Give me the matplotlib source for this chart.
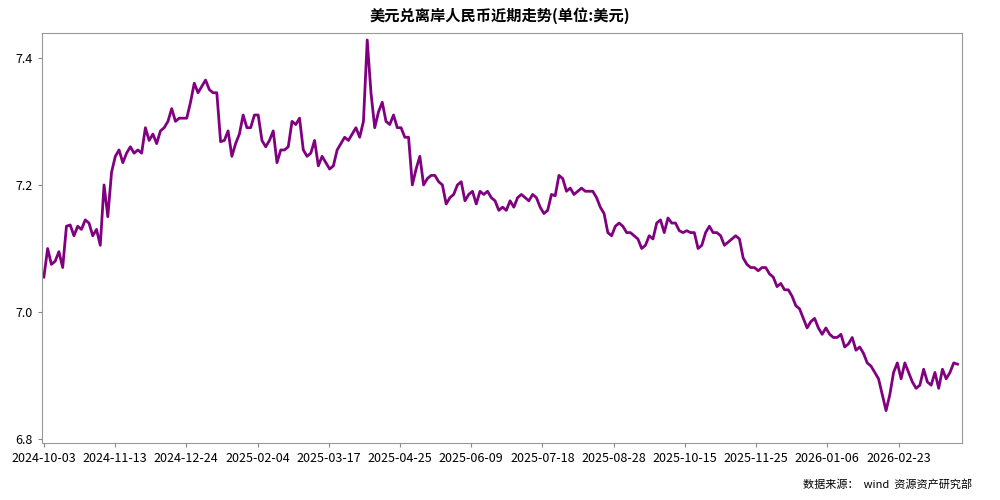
import numpy as np
from matplotlib import pyplot as plt

plt.rcParams['font.family'] = ['Noto Sans CJK SC', 'DejaVu Sans']

tick_labels = ['2024-10-03', '2024-11-13', '2024-12-24', '2025-02-04', '2025-03-17',
               '2025-04-25', '2025-06-09', '2025-07-18', '2025-08-28', '2025-10-15',
               '2025-11-25', '2026-01-06', '2026-02-23']

# USD/CNH close
rate = [7.055, 7.10, 7.075, 7.08, 7.095, 7.07, 7.135, 7.137, 7.12, 7.135, 7.13, 7.145, 7.14, 7.12,
        7.13, 7.105, 7.20, 7.15, 7.22, 7.245, 7.255, 7.235, 7.25, 7.26, 7.25, 7.255, 7.25, 7.29,
        7.27, 7.28, 7.265, 7.285, 7.29, 7.30, 7.32, 7.30, 7.305, 7.305, 7.305, 7.33, 7.36, 7.345,
        7.355, 7.365, 7.35, 7.345, 7.345, 7.268, 7.27, 7.285, 7.245, 7.265, 7.28, 7.31, 7.29, 7.29,
        7.31, 7.31, 7.27, 7.26, 7.27, 7.285, 7.235, 7.255, 7.255, 7.26, 7.30, 7.295, 7.305, 7.255,
        7.245, 7.25, 7.27, 7.23, 7.245, 7.235, 7.225, 7.23, 7.255, 7.265, 7.275, 7.27, 7.28, 7.29,
        7.275, 7.30, 7.428, 7.345, 7.29, 7.315, 7.33, 7.30, 7.295, 7.31, 7.29, 7.29, 7.275, 7.275,
        7.20, 7.225, 7.245, 7.20, 7.21, 7.215, 7.215, 7.205, 7.20, 7.17, 7.18, 7.185, 7.20, 7.205,
        7.175, 7.185, 7.19, 7.17, 7.19, 7.185, 7.19, 7.18, 7.175, 7.16, 7.165, 7.16, 7.175, 7.165,
        7.18, 7.185, 7.18, 7.175, 7.185, 7.18, 7.165, 7.155, 7.16, 7.185, 7.183, 7.215, 7.21, 7.19,
        7.195, 7.185, 7.19, 7.195, 7.19, 7.19, 7.19, 7.18, 7.165, 7.155, 7.125, 7.12, 7.135, 7.14,
        7.135, 7.125, 7.125, 7.12, 7.115, 7.10, 7.105, 7.12, 7.115, 7.14, 7.145, 7.125, 7.148, 7.14,
        7.14, 7.128, 7.125, 7.128, 7.125, 7.125, 7.10, 7.105, 7.125, 7.135, 7.125, 7.125, 7.12,
        7.105, 7.11, 7.115, 7.12, 7.115, 7.085, 7.075, 7.07, 7.07, 7.065, 7.07, 7.07, 7.06, 7.055,
        7.04, 7.045, 7.035, 7.035, 7.025, 7.01, 7.005, 6.99, 6.975, 6.985, 6.99, 6.975, 6.965,
        6.975, 6.965, 6.96, 6.96, 6.965, 6.945, 6.95, 6.96, 6.94, 6.945, 6.935, 6.92, 6.915, 6.905,
        6.895, 6.87, 6.845, 6.87, 6.905, 6.92, 6.895, 6.92, 6.905, 6.89, 6.88, 6.885, 6.91, 6.89,
        6.885, 6.905, 6.88, 6.91, 6.895, 6.905, 6.92, 6.918]

n = len(rate)
x = np.arange(n)
# ticks are evenly spaced, roughly 71 px apart on a 912 px span
step = (n - 1) * 71.1 / 912
ticks = np.arange(len(tick_labels)) * step

fig = plt.figure(figsize=(10, 5), dpi=100)
ax = fig.add_axes([0.042, 0.114, 0.92, 0.82])
ax.plot(x, rate, color='#800080', lw=2)
ax.set_xlim(-0.5, n - 1 + 1.2)
ax.set_ylim(6.794, 7.439)
ax.set_yticks([6.8, 7.0, 7.2, 7.4])
ax.set_yticklabels(['6.8', '7.0', '7.2', '7.4'])
ax.set_xticks(ticks)
ax.set_xticklabels(tick_labels)
ax.tick_params(labelsize=9, length=3, color='#888888')
for s in ax.spines.values():
    s.set_color('#999999')
fig.suptitle('美元兑离岸人民币近期走势(单位:美元)', y=0.985, fontsize=11, fontweight='bold')
fig.text(0.972, 0.025, '数据来源：  wind  资源资产研究部', ha='right', fontsize=8)
fig.savefig('out.png')
